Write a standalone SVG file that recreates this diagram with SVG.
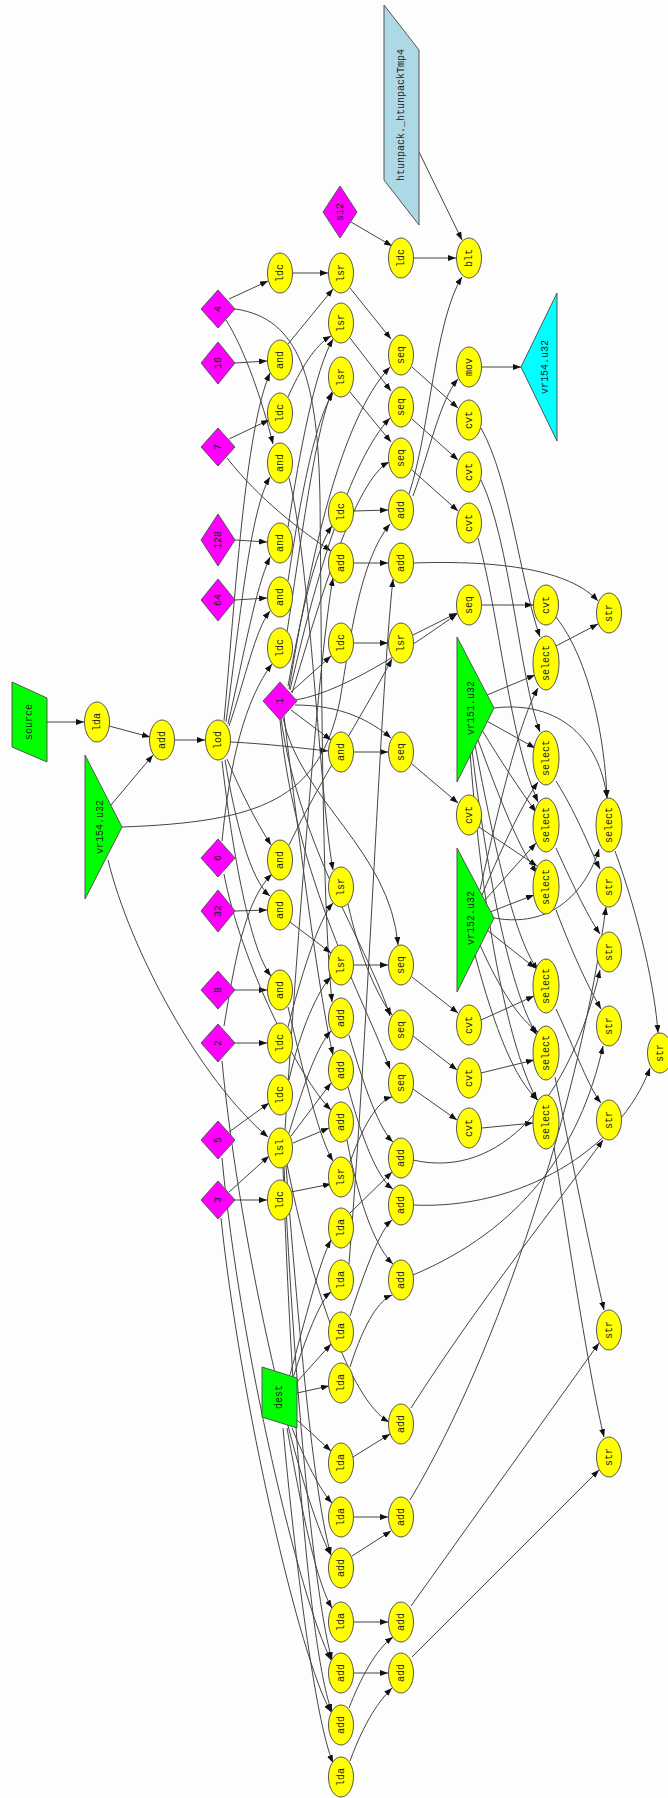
<svg xmlns="http://www.w3.org/2000/svg" width="668" height="1798" viewBox="0 0 668 1798">
<defs>
<marker id="arr" viewBox="0 0 8 6" refX="8" refY="3" markerWidth="8" markerHeight="6" markerUnits="userSpaceOnUse" orient="auto"><path d="M0,0 L8,3 L0,6 z" fill="#111"/></marker>
<style>
.e{fill:none;stroke:#444;stroke-width:1;marker-end:url(#arr)}
.y{fill:#ffff00;stroke:#555;stroke-width:1}
.m{fill:#ff00ff;stroke:#555;stroke-width:1}
.g{fill:#00ff00;stroke:#555;stroke-width:1}
.c{fill:#00ffff;stroke:#555;stroke-width:1}
.b{fill:#add8e6;stroke:#555;stroke-width:1}
.t{font-family:"Liberation Mono",monospace;font-size:10px;fill:#222;text-anchor:middle;dominant-baseline:central}
</style>
</defs>
<rect width="668" height="1798" fill="#fcfdfc"/>
<g id="edges">
<path class="e" d="M47,722 L84,722"/>
<path class="e" d="M109,726 L150,737"/>
<path class="e" d="M111,805 L153,755"/>
<path class="e" d="M175,740 L205,740"/>
<path class="e" d="M122,827 C260,822 320,800 340,700 C350,640 360,560 390,524"/>
<path class="e" d="M108,860 C130,950 200,1080 268,1137"/>
<path class="e" d="M224,721 C235,600 245,430 270,373"/>
<path class="e" d="M226,722 C240,620 250,510 270,477"/>
<path class="e" d="M228,724 C245,650 255,590 270,557"/>
<path class="e" d="M229,726 C245,680 255,630 270,611"/>
<path class="e" d="M227,759 C240,790 255,820 271,845"/>
<path class="e" d="M225,760 C235,820 250,880 270,896"/>
<path class="e" d="M222,761 C232,850 250,950 271,976"/>
<path class="e" d="M231,742 C270,744 300,748 328,751"/>
<path class="e" d="M229,299 L268,281"/>
<path class="e" d="M226,320 C245,350 262,400 273,444"/>
<path class="e" d="M235,363 L267,361"/>
<path class="e" d="M229,439 L269,420"/>
<path class="e" d="M235,540 L267,542"/>
<path class="e" d="M235,600 L267,598"/>
<path class="e" d="M222,841 C230,760 245,700 272,664"/>
<path class="e" d="M235,911 L267,910"/>
<path class="e" d="M235,990 L267,990"/>
<path class="e" d="M235,1043 L267,1043"/>
<path class="e" d="M224,1026 C235,960 245,900 272,874"/>
<path class="e" d="M229,1132 L269,1103"/>
<path class="e" d="M229,1192 L269,1156"/>
<path class="e" d="M235,1200 L267,1200"/>
<path class="e" d="M227,458 C260,500 300,530 331,551"/>
<path class="e" d="M235,309 C300,318 318,380 320,500 C322,700 322,900 332,1002"/>
<path class="e" d="M284,716 C300,850 320,1000 333,1055"/>
<path class="e" d="M224,874 C240,960 300,1080 331,1110"/>
<path class="e" d="M222,1061 C240,1250 300,1500 331,1555"/>
<path class="e" d="M222,1158 C240,1350 300,1600 331,1660"/>
<path class="e" d="M221,1218 C240,1400 300,1660 331,1712"/>
<path class="e" d="M351,222 L392,246"/>
<path class="e" d="M414,258 L456,258"/>
<path class="e" d="M419,152 L462,240"/>
<path class="e" d="M409,494 C430,430 435,320 462,277"/>
<path class="e" d="M413,496 C430,450 440,400 458,379"/>
<path class="e" d="M482,367 L521,367"/>
<path class="e" d="M354,511 L388,510"/>
<path class="e" d="M288,686 C300,620 315,550 332,526"/>
<path class="e" d="M291,692 L331,656"/>
<path class="e" d="M291,710 L331,740"/>
<path class="e" d="M289,689 C310,560 340,420 390,367"/>
<path class="e" d="M290,690 C315,580 350,460 390,418"/>
<path class="e" d="M292,693 C320,600 355,480 389,462"/>
<path class="e" d="M296,700 C350,690 420,640 457,614"/>
<path class="e" d="M295,705 C340,705 370,720 391,738"/>
<path class="e" d="M283,718 C300,800 390,850 398,945"/>
<path class="e" d="M281,719 C300,850 370,950 390,1016"/>
<path class="e" d="M280,720 C295,880 365,1000 390,1069"/>
<path class="e" d="M293,273 L328,273"/>
<path class="e" d="M288,397 C300,370 315,345 331,336"/>
<path class="e" d="M287,632 C300,550 315,430 332,392"/>
<path class="e" d="M354,643 L388,643"/>
<path class="e" d="M288,1027 C300,980 318,920 333,903"/>
<path class="e" d="M289,1080 C300,1030 318,990 331,977"/>
<path class="e" d="M291,1192 L331,1184"/>
<path class="e" d="M288,344 L333,289"/>
<path class="e" d="M288,527 C300,450 315,370 333,339"/>
<path class="e" d="M288,581 C300,500 315,420 333,393"/>
<path class="e" d="M289,845 C320,780 360,720 392,659"/>
<path class="e" d="M289,478 C310,560 320,800 333,870"/>
<path class="e" d="M290,922 L331,953"/>
<path class="e" d="M288,1007 C305,1080 320,1140 333,1161"/>
<path class="e" d="M350,288 L391,339"/>
<path class="e" d="M350,338 L391,391"/>
<path class="e" d="M350,392 L391,442"/>
<path class="e" d="M413,635 L457,613"/>
<path class="e" d="M354,752 L388,752"/>
<path class="e" d="M354,965 L388,965"/>
<path class="e" d="M348,904 C360,960 380,1000 392,1015"/>
<path class="e" d="M350,1162 C365,1120 380,1100 392,1097"/>
<path class="e" d="M412,367 L458,408"/>
<path class="e" d="M412,419 L458,460"/>
<path class="e" d="M412,470 L458,511"/>
<path class="e" d="M482,605 L533,605"/>
<path class="e" d="M412,764 L458,803"/>
<path class="e" d="M412,977 L458,1013"/>
<path class="e" d="M413,1036 L457,1070"/>
<path class="e" d="M413,1089 L457,1120"/>
<path class="e" d="M481,428 C510,480 520,580 540,637"/>
<path class="e" d="M481,480 C510,540 520,680 540,732"/>
<path class="e" d="M478,538 C500,620 510,740 538,802"/>
<path class="e" d="M556,617 C590,660 605,740 607,798"/>
<path class="e" d="M479,827 L537,866"/>
<path class="e" d="M481,1020 L534,996"/>
<path class="e" d="M481,1073 L534,1060"/>
<path class="e" d="M482,1128 L533,1123"/>
<path class="e" d="M487,695 L535,675"/>
<path class="e" d="M485,720 L535,748"/>
<path class="e" d="M482,730 C500,760 520,790 536,812"/>
<path class="e" d="M478,740 C500,800 520,850 537,873"/>
<path class="e" d="M475,745 C495,850 515,940 538,970"/>
<path class="e" d="M472,750 C490,900 515,1000 537,1035"/>
<path class="e" d="M470,752 C485,950 515,1060 537,1100"/>
<path class="e" d="M494,708 C560,700 600,740 607,798"/>
<path class="e" d="M480,890 C500,800 520,720 538,688"/>
<path class="e" d="M482,895 C505,840 525,800 538,782"/>
<path class="e" d="M485,900 L536,843"/>
<path class="e" d="M490,912 L534,895"/>
<path class="e" d="M487,930 L535,968"/>
<path class="e" d="M480,945 C500,990 520,1020 538,1032"/>
<path class="e" d="M475,955 C495,1030 515,1080 538,1100"/>
<path class="e" d="M494,918 C560,930 590,880 599,849"/>
<path class="e" d="M556,646 L598,624"/>
<path class="e" d="M556,781 C580,820 590,850 600,869"/>
<path class="e" d="M556,848 C575,890 590,920 600,934"/>
<path class="e" d="M615,851 C640,920 655,990 658,1033"/>
<path class="e" d="M556,910 C575,960 590,990 601,1009"/>
<path class="e" d="M556,1009 C575,1050 590,1090 601,1103"/>
<path class="e" d="M555,1077 C570,1150 590,1250 604,1310"/>
<path class="e" d="M554,1147 C570,1250 590,1380 604,1437"/>
<path class="e" d="M414,563 C500,560 570,570 598,601"/>
<path class="e" d="M413,1160 C500,1180 570,1100 600,970"/>
<path class="e" d="M413,1205 C520,1210 620,1150 650,1068"/>
<path class="e" d="M413,1275 C520,1230 580,1150 603,1046"/>
<path class="e" d="M411,1408 C480,1300 560,1200 603,1140"/>
<path class="e" d="M410,1500 C500,1350 580,1100 606,907"/>
<path class="e" d="M411,1606 L599,1343"/>
<path class="e" d="M412,1657 L599,1470"/>
<path class="e" d="M290,1375 C305,1320 320,1260 331,1240"/>
<path class="e" d="M293,1378 C305,1340 320,1300 331,1292"/>
<path class="e" d="M296,1383 L331,1344"/>
<path class="e" d="M297,1393 L329,1386"/>
<path class="e" d="M297,1420 L331,1451"/>
<path class="e" d="M292,1428 C305,1460 320,1490 332,1503"/>
<path class="e" d="M287,1428 C300,1500 315,1580 332,1608"/>
<path class="e" d="M283,1428 C295,1560 315,1720 333,1763"/>
<path class="e" d="M350,1213 L392,1172"/>
<path class="e" d="M349,1264 C370,1000 380,700 393,579"/>
<path class="e" d="M350,1316 C365,1270 380,1230 392,1220"/>
<path class="e" d="M350,1367 C365,1320 380,1300 392,1295"/>
<path class="e" d="M353,1457 L390,1434"/>
<path class="e" d="M354,1517 L388,1517"/>
<path class="e" d="M354,1622 L388,1622"/>
<path class="e" d="M350,1761 C365,1720 380,1700 392,1688"/>
<path class="e" d="M352,1556 L391,1531"/>
<path class="e" d="M349,1708 C360,1680 375,1650 393,1637"/>
<path class="e" d="M354,1673 L388,1673"/>
<path class="e" d="M354,563 L388,563"/>
<path class="e" d="M349,1035 C365,1090 380,1130 393,1142"/>
<path class="e" d="M348,1087 C365,1150 380,1180 393,1189"/>
<path class="e" d="M347,1140 C360,1210 378,1250 393,1264"/>
<path class="e" d="M287,1164 C310,1280 350,1400 389,1422"/>
<path class="e" d="M285,1130 C300,900 320,650 333,578"/>
<path class="e" d="M289,1133 C305,1080 318,1045 331,1031"/>
<path class="e" d="M291,1136 L331,1083"/>
<path class="e" d="M293,1143 L329,1128"/>
<path class="e" d="M286,1166 C300,1350 315,1500 331,1555"/>
<path class="e" d="M284,1167 C295,1400 315,1600 332,1660"/>
<path class="e" d="M283,1168 C293,1450 312,1660 332,1712"/>
</g>
<g id="n_source"><polygon class="g" points="12,682 47,698 47,762 12,747"/><text class="t" transform="translate(29,722) rotate(-90)">source</text></g>
<g id="n_vr154in"><polygon class="g" points="85,755 122,827 85,899"/><text class="t" transform="translate(100,827) rotate(-90)">vr154.u32</text></g>
<g id="n_lda0"><ellipse class="y" cx="97" cy="722" rx="12.5" ry="20"/><text class="t" transform="translate(97,722) rotate(-90)">lda</text></g>
<g id="n_add0"><ellipse class="y" cx="162" cy="740" rx="12.5" ry="20"/><text class="t" transform="translate(162,740) rotate(-90)">add</text></g>
<g id="n_lod"><ellipse class="y" cx="218" cy="740" rx="12.5" ry="20"/><text class="t" transform="translate(218,740) rotate(-90)">lod</text></g>
<g id="n_d4"><polygon class="m" points="218,290 235,309 218,328 201,309"/><text class="t" transform="translate(218,309) rotate(-90)">4</text></g>
<g id="n_d16"><polygon class="m" points="218,342 235,363 218,384 201,363"/><text class="t" transform="translate(218,363) rotate(-90)">16</text></g>
<g id="n_d7"><polygon class="m" points="218,428 235,447 218,466 201,447"/><text class="t" transform="translate(218,447) rotate(-90)">7</text></g>
<g id="n_d128"><polygon class="m" points="218,514 235,540 218,566 201,540"/><text class="t" transform="translate(218,540) rotate(-90)">128</text></g>
<g id="n_d64"><polygon class="m" points="218,579 235,600 218,621 201,600"/><text class="t" transform="translate(218,600) rotate(-90)">64</text></g>
<g id="n_d1"><polygon class="m" points="280,682 297,701 280,720 263,701"/><text class="t" transform="translate(280,701) rotate(-90)">1</text></g>
<g id="n_d6"><polygon class="m" points="218,839 235,858 218,877 201,858"/><text class="t" transform="translate(218,858) rotate(-90)">6</text></g>
<g id="n_d32"><polygon class="m" points="218,890 235,911 218,932 201,911"/><text class="t" transform="translate(218,911) rotate(-90)">32</text></g>
<g id="n_d8"><polygon class="m" points="218,971 235,990 218,1009 201,990"/><text class="t" transform="translate(218,990) rotate(-90)">8</text></g>
<g id="n_d2"><polygon class="m" points="218,1024 235,1043 218,1062 201,1043"/><text class="t" transform="translate(218,1043) rotate(-90)">2</text></g>
<g id="n_d5"><polygon class="m" points="218,1121 235,1140 218,1159 201,1140"/><text class="t" transform="translate(218,1140) rotate(-90)">5</text></g>
<g id="n_d3"><polygon class="m" points="218,1181 235,1200 218,1219 201,1200"/><text class="t" transform="translate(218,1200) rotate(-90)">3</text></g>
<g id="n_ds12"><polygon class="m" points="340,186 357,212 340,238 323,212"/><text class="t" transform="translate(340,212) rotate(-90)">s12</text></g>
<g id="n_htunpack"><polygon class="b" points="384,5 419,50 419,225 384,180"/><text class="t" transform="translate(401,115) rotate(-90)">htunpack._htunpackTmp4</text></g>
<g id="n_ldc_a"><ellipse class="y" cx="280" cy="273" rx="12.5" ry="20"/><text class="t" transform="translate(280,273) rotate(-90)">ldc</text></g>
<g id="n_and_a"><ellipse class="y" cx="280" cy="360" rx="12.5" ry="20"/><text class="t" transform="translate(280,360) rotate(-90)">and</text></g>
<g id="n_ldc_b"><ellipse class="y" cx="280" cy="413" rx="12.5" ry="20"/><text class="t" transform="translate(280,413) rotate(-90)">ldc</text></g>
<g id="n_and_b"><ellipse class="y" cx="280" cy="463" rx="12.5" ry="20"/><text class="t" transform="translate(280,463) rotate(-90)">and</text></g>
<g id="n_and_c"><ellipse class="y" cx="280" cy="543" rx="12.5" ry="20"/><text class="t" transform="translate(280,543) rotate(-90)">and</text></g>
<g id="n_and_d"><ellipse class="y" cx="280" cy="597" rx="12.5" ry="20"/><text class="t" transform="translate(280,597) rotate(-90)">and</text></g>
<g id="n_ldc_c"><ellipse class="y" cx="280" cy="648" rx="12.5" ry="20"/><text class="t" transform="translate(280,648) rotate(-90)">ldc</text></g>
<g id="n_and_e"><ellipse class="y" cx="280" cy="860" rx="12.5" ry="20"/><text class="t" transform="translate(280,860) rotate(-90)">and</text></g>
<g id="n_and_f"><ellipse class="y" cx="280" cy="910" rx="12.5" ry="20"/><text class="t" transform="translate(280,910) rotate(-90)">and</text></g>
<g id="n_and_g"><ellipse class="y" cx="280" cy="990" rx="12.5" ry="20"/><text class="t" transform="translate(280,990) rotate(-90)">and</text></g>
<g id="n_ldc_d"><ellipse class="y" cx="280" cy="1043" rx="12.5" ry="20"/><text class="t" transform="translate(280,1043) rotate(-90)">ldc</text></g>
<g id="n_ldc_e"><ellipse class="y" cx="280" cy="1095" rx="12.5" ry="20"/><text class="t" transform="translate(280,1095) rotate(-90)">ldc</text></g>
<g id="n_lsl"><ellipse class="y" cx="280" cy="1148" rx="12.5" ry="20"/><text class="t" transform="translate(280,1148) rotate(-90)">lsl</text></g>
<g id="n_ldc_f"><ellipse class="y" cx="280" cy="1200" rx="12.5" ry="20"/><text class="t" transform="translate(280,1200) rotate(-90)">ldc</text></g>
<g id="n_dest"><polygon class="g" points="262,1367 297,1378 297,1428 262,1417"/><text class="t" transform="translate(279,1397) rotate(-90)">dest</text></g>
<g id="n_lsr_a"><ellipse class="y" cx="341" cy="273" rx="12.5" ry="20"/><text class="t" transform="translate(341,273) rotate(-90)">lsr</text></g>
<g id="n_lsr_b"><ellipse class="y" cx="341" cy="323" rx="12.5" ry="20"/><text class="t" transform="translate(341,323) rotate(-90)">lsr</text></g>
<g id="n_lsr_c"><ellipse class="y" cx="341" cy="377" rx="12.5" ry="20"/><text class="t" transform="translate(341,377) rotate(-90)">lsr</text></g>
<g id="n_ldc_g"><ellipse class="y" cx="341" cy="512" rx="12.5" ry="20"/><text class="t" transform="translate(341,512) rotate(-90)">ldc</text></g>
<g id="n_add_c5a"><ellipse class="y" cx="341" cy="563" rx="12.5" ry="20"/><text class="t" transform="translate(341,563) rotate(-90)">add</text></g>
<g id="n_ldc_h"><ellipse class="y" cx="341" cy="643" rx="12.5" ry="20"/><text class="t" transform="translate(341,643) rotate(-90)">ldc</text></g>
<g id="n_and_h"><ellipse class="y" cx="341" cy="752" rx="12.5" ry="20"/><text class="t" transform="translate(341,752) rotate(-90)">and</text></g>
<g id="n_lsr_d"><ellipse class="y" cx="341" cy="887" rx="12.5" ry="20"/><text class="t" transform="translate(341,887) rotate(-90)">lsr</text></g>
<g id="n_lsr_e"><ellipse class="y" cx="341" cy="965" rx="12.5" ry="20"/><text class="t" transform="translate(341,965) rotate(-90)">lsr</text></g>
<g id="n_add_c5b"><ellipse class="y" cx="341" cy="1018" rx="12.5" ry="20"/><text class="t" transform="translate(341,1018) rotate(-90)">add</text></g>
<g id="n_add_c5c"><ellipse class="y" cx="341" cy="1070" rx="12.5" ry="20"/><text class="t" transform="translate(341,1070) rotate(-90)">add</text></g>
<g id="n_add_c5d"><ellipse class="y" cx="341" cy="1122" rx="12.5" ry="20"/><text class="t" transform="translate(341,1122) rotate(-90)">add</text></g>
<g id="n_lsr_f"><ellipse class="y" cx="341" cy="1177" rx="12.5" ry="20"/><text class="t" transform="translate(341,1177) rotate(-90)">lsr</text></g>
<g id="n_lda1"><ellipse class="y" cx="341" cy="1228" rx="12.5" ry="20"/><text class="t" transform="translate(341,1228) rotate(-90)">lda</text></g>
<g id="n_lda2"><ellipse class="y" cx="341" cy="1280" rx="12.5" ry="20"/><text class="t" transform="translate(341,1280) rotate(-90)">lda</text></g>
<g id="n_lda3"><ellipse class="y" cx="341" cy="1332" rx="12.5" ry="20"/><text class="t" transform="translate(341,1332) rotate(-90)">lda</text></g>
<g id="n_lda4"><ellipse class="y" cx="341" cy="1383" rx="12.5" ry="20"/><text class="t" transform="translate(341,1383) rotate(-90)">lda</text></g>
<g id="n_lda5"><ellipse class="y" cx="341" cy="1463" rx="12.5" ry="20"/><text class="t" transform="translate(341,1463) rotate(-90)">lda</text></g>
<g id="n_lda6"><ellipse class="y" cx="341" cy="1517" rx="12.5" ry="20"/><text class="t" transform="translate(341,1517) rotate(-90)">lda</text></g>
<g id="n_add_c5e"><ellipse class="y" cx="341" cy="1568" rx="12.5" ry="20"/><text class="t" transform="translate(341,1568) rotate(-90)">add</text></g>
<g id="n_lda7"><ellipse class="y" cx="341" cy="1622" rx="12.5" ry="20"/><text class="t" transform="translate(341,1622) rotate(-90)">lda</text></g>
<g id="n_add_c5f"><ellipse class="y" cx="341" cy="1673" rx="12.5" ry="20"/><text class="t" transform="translate(341,1673) rotate(-90)">add</text></g>
<g id="n_add_c5g"><ellipse class="y" cx="341" cy="1725" rx="12.5" ry="20"/><text class="t" transform="translate(341,1725) rotate(-90)">add</text></g>
<g id="n_lda8"><ellipse class="y" cx="341" cy="1777" rx="12.5" ry="20"/><text class="t" transform="translate(341,1777) rotate(-90)">lda</text></g>
<g id="n_ldc_s"><ellipse class="y" cx="401" cy="258" rx="12.5" ry="20"/><text class="t" transform="translate(401,258) rotate(-90)">ldc</text></g>
<g id="n_seq_a"><ellipse class="y" cx="401" cy="355" rx="12.5" ry="20"/><text class="t" transform="translate(401,355) rotate(-90)">seq</text></g>
<g id="n_seq_b"><ellipse class="y" cx="401" cy="407" rx="12.5" ry="20"/><text class="t" transform="translate(401,407) rotate(-90)">seq</text></g>
<g id="n_seq_c"><ellipse class="y" cx="401" cy="458" rx="12.5" ry="20"/><text class="t" transform="translate(401,458) rotate(-90)">seq</text></g>
<g id="n_add_loop"><ellipse class="y" cx="401" cy="510" rx="12.5" ry="20"/><text class="t" transform="translate(401,510) rotate(-90)">add</text></g>
<g id="n_add_c6a"><ellipse class="y" cx="401" cy="563" rx="12.5" ry="20"/><text class="t" transform="translate(401,563) rotate(-90)">add</text></g>
<g id="n_lsr_g"><ellipse class="y" cx="401" cy="643" rx="12.5" ry="20"/><text class="t" transform="translate(401,643) rotate(-90)">lsr</text></g>
<g id="n_seq_h"><ellipse class="y" cx="401" cy="752" rx="12.5" ry="20"/><text class="t" transform="translate(401,752) rotate(-90)">seq</text></g>
<g id="n_seq_e"><ellipse class="y" cx="401" cy="965" rx="12.5" ry="20"/><text class="t" transform="translate(401,965) rotate(-90)">seq</text></g>
<g id="n_seq_d"><ellipse class="y" cx="401" cy="1030" rx="12.5" ry="20"/><text class="t" transform="translate(401,1030) rotate(-90)">seq</text></g>
<g id="n_seq_f"><ellipse class="y" cx="401" cy="1083" rx="12.5" ry="20"/><text class="t" transform="translate(401,1083) rotate(-90)">seq</text></g>
<g id="n_add_c6b"><ellipse class="y" cx="401" cy="1158" rx="12.5" ry="20"/><text class="t" transform="translate(401,1158) rotate(-90)">add</text></g>
<g id="n_add_c6c"><ellipse class="y" cx="401" cy="1205" rx="12.5" ry="20"/><text class="t" transform="translate(401,1205) rotate(-90)">add</text></g>
<g id="n_add_c6d"><ellipse class="y" cx="401" cy="1280" rx="12.5" ry="20"/><text class="t" transform="translate(401,1280) rotate(-90)">add</text></g>
<g id="n_add_c6e"><ellipse class="y" cx="401" cy="1424" rx="12.5" ry="20"/><text class="t" transform="translate(401,1424) rotate(-90)">add</text></g>
<g id="n_add_c6f"><ellipse class="y" cx="401" cy="1517" rx="12.5" ry="20"/><text class="t" transform="translate(401,1517) rotate(-90)">add</text></g>
<g id="n_add_c6g"><ellipse class="y" cx="401" cy="1622" rx="12.5" ry="20"/><text class="t" transform="translate(401,1622) rotate(-90)">add</text></g>
<g id="n_add_c6h"><ellipse class="y" cx="401" cy="1673" rx="12.5" ry="20"/><text class="t" transform="translate(401,1673) rotate(-90)">add</text></g>
<g id="n_blt"><ellipse class="y" cx="469" cy="258" rx="12.5" ry="20"/><text class="t" transform="translate(469,258) rotate(-90)">blt</text></g>
<g id="n_mov"><ellipse class="y" cx="469" cy="367" rx="12.5" ry="20"/><text class="t" transform="translate(469,367) rotate(-90)">mov</text></g>
<g id="n_cvt_a"><ellipse class="y" cx="469" cy="420" rx="12.5" ry="20"/><text class="t" transform="translate(469,420) rotate(-90)">cvt</text></g>
<g id="n_cvt_b"><ellipse class="y" cx="469" cy="472" rx="12.5" ry="20"/><text class="t" transform="translate(469,472) rotate(-90)">cvt</text></g>
<g id="n_cvt_c"><ellipse class="y" cx="469" cy="523" rx="12.5" ry="20"/><text class="t" transform="translate(469,523) rotate(-90)">cvt</text></g>
<g id="n_seq_g"><ellipse class="y" cx="469" cy="605" rx="12.5" ry="20"/><text class="t" transform="translate(469,605) rotate(-90)">seq</text></g>
<g id="n_vr151"><polygon class="g" points="457,637 494,708 457,782"/><text class="t" transform="translate(471,708) rotate(-90)">vr151.u32</text></g>
<g id="n_cvt_h"><ellipse class="y" cx="469" cy="815" rx="12.5" ry="20"/><text class="t" transform="translate(469,815) rotate(-90)">cvt</text></g>
<g id="n_vr152"><polygon class="g" points="457,848 494,918 457,992"/><text class="t" transform="translate(471,918) rotate(-90)">vr152.u32</text></g>
<g id="n_cvt_e"><ellipse class="y" cx="469" cy="1025" rx="12.5" ry="20"/><text class="t" transform="translate(469,1025) rotate(-90)">cvt</text></g>
<g id="n_cvt_d"><ellipse class="y" cx="469" cy="1078" rx="12.5" ry="20"/><text class="t" transform="translate(469,1078) rotate(-90)">cvt</text></g>
<g id="n_cvt_f"><ellipse class="y" cx="469" cy="1128" rx="12.5" ry="20"/><text class="t" transform="translate(469,1128) rotate(-90)">cvt</text></g>
<g id="n_vr154out"><polygon class="c" points="557,293 557,441 521,367"/><text class="t" transform="translate(545,367) rotate(-90)">vr154.u32</text></g>
<g id="n_cvt_g"><ellipse class="y" cx="546" cy="605" rx="12.5" ry="20"/><text class="t" transform="translate(546,605) rotate(-90)">cvt</text></g>
<g id="n_sel1"><ellipse class="y" cx="546" cy="663" rx="13" ry="27"/><text class="t" transform="translate(546,663) rotate(-90)">select</text></g>
<g id="n_sel2"><ellipse class="y" cx="546" cy="758" rx="13" ry="27"/><text class="t" transform="translate(546,758) rotate(-90)">select</text></g>
<g id="n_sel3"><ellipse class="y" cx="546" cy="825" rx="13" ry="27"/><text class="t" transform="translate(546,825) rotate(-90)">select</text></g>
<g id="n_sel4"><ellipse class="y" cx="546" cy="887" rx="13" ry="27"/><text class="t" transform="translate(546,887) rotate(-90)">select</text></g>
<g id="n_sel5"><ellipse class="y" cx="546" cy="986" rx="13" ry="27"/><text class="t" transform="translate(546,986) rotate(-90)">select</text></g>
<g id="n_sel6"><ellipse class="y" cx="546" cy="1053" rx="13" ry="27"/><text class="t" transform="translate(546,1053) rotate(-90)">select</text></g>
<g id="n_sel7"><ellipse class="y" cx="546" cy="1122" rx="13" ry="27"/><text class="t" transform="translate(546,1122) rotate(-90)">select</text></g>
<g id="n_str1"><ellipse class="y" cx="609" cy="613" rx="12.5" ry="20"/><text class="t" transform="translate(609,613) rotate(-90)">str</text></g>
<g id="n_sel8"><ellipse class="y" cx="609" cy="825" rx="13" ry="27"/><text class="t" transform="translate(609,825) rotate(-90)">select</text></g>
<g id="n_str2"><ellipse class="y" cx="609" cy="887" rx="12.5" ry="20"/><text class="t" transform="translate(609,887) rotate(-90)">str</text></g>
<g id="n_str3"><ellipse class="y" cx="609" cy="952" rx="12.5" ry="20"/><text class="t" transform="translate(609,952) rotate(-90)">str</text></g>
<g id="n_str4"><ellipse class="y" cx="609" cy="1026" rx="12.5" ry="20"/><text class="t" transform="translate(609,1026) rotate(-90)">str</text></g>
<g id="n_str5"><ellipse class="y" cx="609" cy="1120" rx="12.5" ry="20"/><text class="t" transform="translate(609,1120) rotate(-90)">str</text></g>
<g id="n_str6"><ellipse class="y" cx="609" cy="1330" rx="12.5" ry="20"/><text class="t" transform="translate(609,1330) rotate(-90)">str</text></g>
<g id="n_str7"><ellipse class="y" cx="609" cy="1457" rx="12.5" ry="20"/><text class="t" transform="translate(609,1457) rotate(-90)">str</text></g>
<g id="n_str8"><ellipse class="y" cx="660" cy="1053" rx="12.5" ry="20"/><text class="t" transform="translate(660,1053) rotate(-90)">str</text></g>
</svg>
